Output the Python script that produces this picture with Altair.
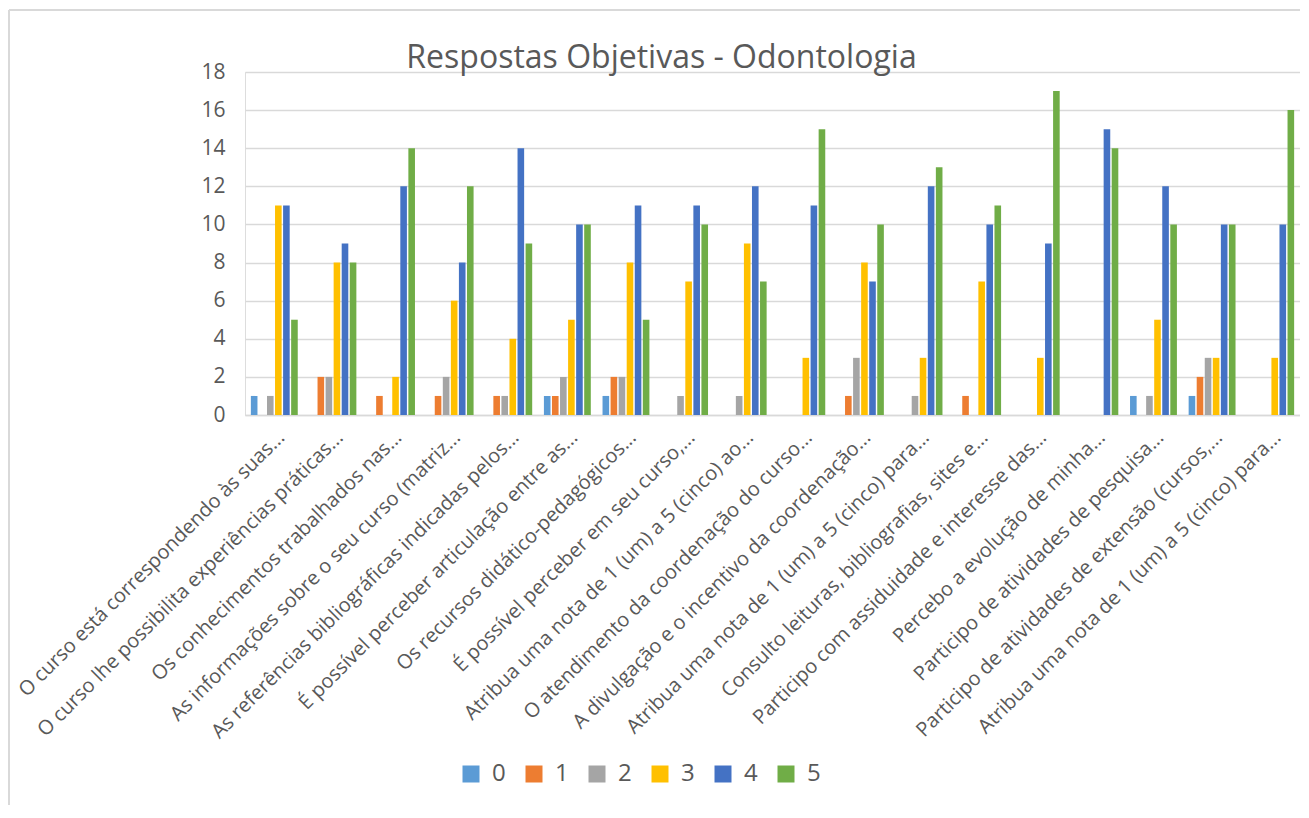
import json
import altair as alt
import pandas as pd

categories = [
    "O curso está correspondendo às suas...",
    "O curso lhe possibilita experiências práticas...",
    "Os conhecimentos trabalhados nas...",
    "As informações sobre o seu curso (matriz...",
    "As referências bibliográficas indicadas pelos...",
    "É possível perceber articulação entre as...",
    "Os recursos didático-pedagógicos...",
    "É possível perceber em seu curso,...",
    "Atribua uma nota de 1 (um) a 5 (cinco) ao...",
    "O atendimento da coordenação do curso...",
    "A divulgação e o incentivo da coordenação...",
    "Atribua uma nota de 1 (um) a 5 (cinco) para...",
    "Consulto leituras, bibliografias, sites e...",
    "Participo com assiduidade e interesse das...",
    "Percebo a evolução de minha...",
    "Participo de atividades de pesquisa...",
    "Participo de atividades de extensão (cursos,...",
    "Atribua uma nota de 1 (um) a 5 (cinco) para...",
]

series_names = ["0", "1", "2", "3", "4", "5"]
s0 = [1, 0, 0, 0, 0, 1, 1, 0, 0, 0, 0, 0, 0, 0, 0, 1, 1, 0]
s1 = [0, 2, 1, 1, 1, 1, 2, 0, 0, 0, 1, 0, 1, 0, 0, 0, 2, 0]
s2 = [1, 2, 0, 2, 1, 2, 2, 1, 1, 0, 3, 1, 0, 0, 0, 1, 3, 0]
s3 = [11, 8, 2, 6, 4, 5, 8, 7, 9, 3, 8, 3, 7, 3, 0, 5, 3, 3]
s4 = [11, 9, 12, 8, 14, 10, 11, 11, 12, 11, 7, 12, 10, 9, 15, 12, 10, 10]
s5 = [5, 8, 14, 12, 9, 10, 5, 10, 7, 15, 10, 13, 11, 17, 14, 10, 10, 16]
series_colors = ["#5B9BD5", "#ED7D31", "#A5A5A5", "#FFC000", "#4472C4", "#70AD47"]

title_text = "Respostas Objetivas - Odontologia"
y_ticks = [0, 2, 4, 6, 8, 10, 12, 14, 16, 18]

rows = []
for name, vals in zip(series_names, [s0, s1, s2, s3, s4, s5]):
    for i, v in enumerate(vals):
        rows.append({"idx": i, "resposta": name, "valor": v})
df = pd.DataFrame(rows)

FONT = "Open Sans"
TXT = "#595959"
GRID = "#D9D9D9"
W, H = 1055, 343

label_expr = json.dumps(categories, ensure_ascii=False) + "[datum.value]"

bars = alt.Chart(df).mark_bar().encode(
    x=alt.X(
        "idx:O",
        title=None,
        scale=alt.Scale(paddingInner=0.2, paddingOuter=0.1),
        axis=alt.Axis(
            labelExpr=label_expr,
            labelAngle=-45,
            labelAlign="right",
            labelBaseline="top",
            labelFontSize=20,
            labelColor=TXT,
            labelFont=FONT,
            labelLimit=600,
            labelPadding=12,
            ticks=False,
            domainColor=GRID,
            domainWidth=1.5,
        ),
    ),
    xOffset=alt.XOffset(
        "resposta:N",
        sort=series_names,
        scale=alt.Scale(paddingInner=0.18),
    ),
    y=alt.Y(
        "valor:Q",
        title=None,
        scale=alt.Scale(domain=[0, 18], nice=False),
        axis=alt.Axis(
            values=y_ticks,
            labelFontSize=21,
            labelColor=TXT,
            labelFont=FONT,
            labelPadding=20,
            ticks=False,
            domain=False,
            gridColor=GRID,
            gridWidth=1.5,
        ),
    ),
    color=alt.Color(
        "resposta:N",
        sort=series_names,
        scale=alt.Scale(domain=series_names, range=series_colors),
        legend=alt.Legend(
            title=None,
            orient="none",
            direction="horizontal",
            columns=6,
            legendX=214,
            legendY=690,
            symbolType="square",
            symbolSize=289,
            symbolStrokeWidth=0,
            labelFontSize=24,
            labelColor=TXT,
            labelFont=FONT,
            labelOffset=9,
            columnPadding=16,
        ),
    ),
)

frame_df = pd.DataFrame({"k": [0]})
frame_top = alt.Chart(frame_df).mark_rule(color=GRID, strokeWidth=2).encode(
    x=alt.value(-236), x2=alt.value(W + 20), y=alt.value(-62)
)
frame_left = alt.Chart(frame_df).mark_rule(color=GRID, strokeWidth=2).encode(
    x=alt.value(-236), y=alt.value(-62), y2=alt.value(H + 400)
)

chart = (
    alt.layer(bars, frame_top, frame_left)
    .properties(
        width=W,
        height=H,
        autosize=alt.AutoSizeParams(type="none"),
        padding={"left": 237, "top": 64, "right": 0, "bottom": 390},
        title=alt.TitleParams(
            title_text,
            font=FONT,
            fontSize=32,
            fontWeight="normal",
            color=TXT,
            anchor="middle",
            frame="group",
            dx=-111,
            dy=70,
            offset=4,
        ),
    )
    .configure_view(stroke=None)
    .configure(background="white")
)

chart.save("out.html", embed_options={"renderer": "svg", "actions": False})
